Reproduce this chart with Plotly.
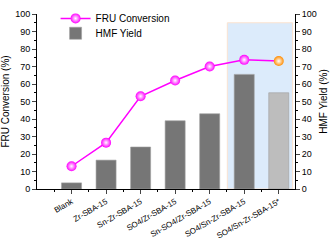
import plotly.graph_objects as go

categories = ["Blank", "Zr-SBA-15", "Sn-Zr-SBA-15", "SO4/Zr-SBA-15",
              "Sn-SO4/Zr-SBA-15", "SO4/Sn-Zr-SBA-15", "SO4/Sn-Zr-SBA-15*"]
fru_conversion = [13, 26.5, 53, 62, 70, 73.8, 73.1]
hmf_yield = [3.5, 16.5, 24, 39, 43, 65.5, 55]
positions = list(range(len(categories)))

marker_colors = ["#ff00ff"] * 6 + ["#ff8c00"]
bar_colors = ["#767676"] * 6 + ["#bdbdbd"]

font = "Liberation Sans, Arial, sans-serif"

fig = go.Figure()
fig.add_trace(go.Scatter(
    x=positions, y=fru_conversion, name="FRU Conversion", mode="lines+markers",
    line=dict(color="#ff00ff", width=1.5),
    marker=dict(size=10, color=marker_colors,
                gradient=dict(type="radial", color="#ffffff"),
                line=dict(width=0)),
    yaxis="y2", legend="legend",
))
fig.add_trace(go.Bar(
    x=positions, y=hmf_yield, name="HMF Yield", width=0.58,
    marker=dict(color=bar_colors, line=dict(color="#a0a0a0", width=0.6)),
    yaxis="y", legend="legend2",
))

fig.add_shape(type="rect", xref="x", yref="y", x0=4.51, x1=6.4, y0=0, y1=95,
              fillcolor="#dcebfb", line=dict(color="#fbe3d0", width=1), layer="below")

axis_common = dict(range=[0, 100], dtick=10, ticks="outside", ticklen=4, tickwidth=1,
                   showline=True, linecolor="black", linewidth=1, showgrid=False,
                   zeroline=False, tickfont=dict(size=9, color="black"),
                   minor=dict(ticks="outside", ticklen=2, dtick=5, tickcolor="black"))

legend_common = dict(xanchor="left", yanchor="middle", bgcolor="rgba(0,0,0,0)",
                     font=dict(size=10), itemwidth=30)

fig.update_layout(
    width=332, height=245,
    margin=dict(l=31, r=33, t=4, b=43),
    plot_bgcolor="white", paper_bgcolor="white",
    font=dict(family=font, color="black"),
    showlegend=True,
    legend=dict(x=0.072, y=0.975, **legend_common),
    legend2=dict(x=0.072, y=0.89, **legend_common),
    xaxis=dict(range=[-1, 6.47], tickmode="array", tickvals=positions, ticktext=categories,
               tickangle=-30, ticks="outside", ticklen=4, showline=True, linecolor="black",
               showgrid=False, zeroline=False, tickfont=dict(size=8, color="black"),
               minor=dict(ticks="outside", ticklen=2, tickmode="array",
                          tickvals=[p - 0.5 for p in positions] + [6.5], tickcolor="black")),
    yaxis=dict(title=dict(text="FRU Conversion (%)", font=dict(size=10), standoff=4),
               **axis_common),
    yaxis2=dict(title=dict(text="HMF Yield (%)", font=dict(size=10), standoff=4),
                overlaying="y", side="right", **axis_common),
)

fig.write_html("out.html")
